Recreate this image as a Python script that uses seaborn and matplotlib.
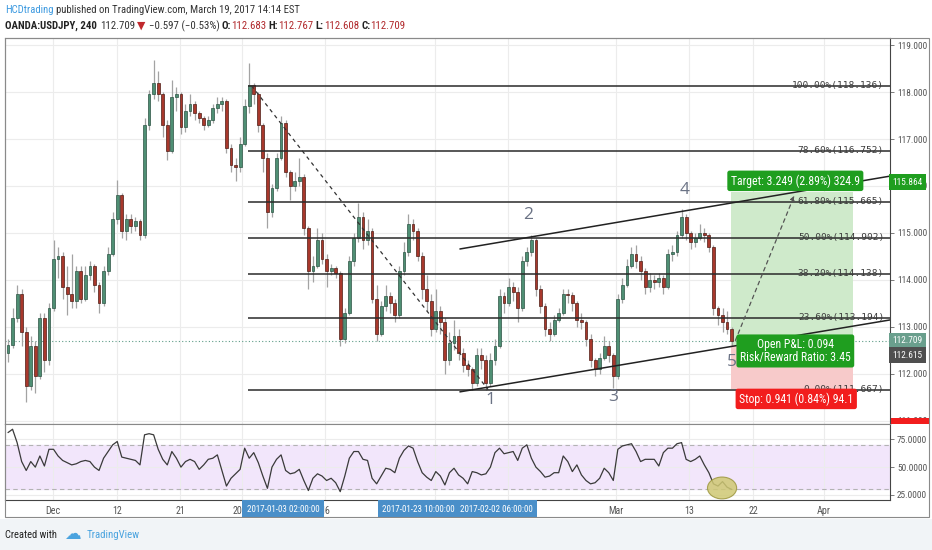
import numpy as np
import pandas as pd
import seaborn as sns
import matplotlib
matplotlib.use("Agg")
import matplotlib.pyplot as plt
import matplotlib.transforms as mtrans
from matplotlib import font_manager
from matplotlib.patches import Rectangle, Ellipse

first_open = 112.45
closes = [112.62, 113.2, 113.7, 112.9, 111.75, 112.6, 111.95, 113.2, 112.3, 113.4,
          114.45, 114.5, 113.85, 113.7, 113.55, 114.2, 113.6, 114.1, 114.3, 113.9,
          113.5, 114.2, 114.55, 115.3, 115.8, 115.05, 115.3, 115.15, 115.25, 114.95,
          117.3, 117.95, 118.2, 117.95, 117.3, 116.75, 117.9, 117.95, 117.25, 117.6,
          117.75, 117.55, 117.45, 117.3, 117.4, 117.65, 117.75, 117.8, 116.8, 116.45,
          116.4, 116.9, 117.7, 118.15, 117.95, 117.3, 116.6, 115.45, 115.95, 116.6,
          117.35, 116.3, 116.0, 116.1, 116.2, 115.1, 114.2, 114.3, 114.85, 114.45,
          114.2, 114.25, 114.15, 112.75, 113.3, 114.4, 114.9, 115.35, 114.85, 115.05,
          113.6, 112.85, 113.45, 113.65, 113.5, 113.25, 114.2, 114.6, 115.2, 115.05,
          114.5, 113.8, 113.55, 112.95, 113.35, 113.1, 112.3, 112.65, 112.8, 112.45,
          112.2, 112.1, 111.8, 112.4, 112.3, 111.8, 112.3, 112.6, 113.65, 113.5,
          113.85, 113.75, 113.4, 114.4, 114.6, 114.85, 113.8, 113.45, 112.95, 112.85,
          113.15, 113.3, 113.7, 113.68, 113.5, 113.15, 113.1, 112.75, 112.3, 112.1,
          112.35, 112.6, 112.4, 111.95, 113.6, 113.9, 114.3, 114.55, 114.4, 114.2,
          113.85, 114.0, 113.95, 114.05, 113.85, 114.55, 114.6, 114.95, 115.35, 115.0,
          114.8, 114.9, 115.0, 114.95, 114.7, 113.4, 113.25, 113.1, 112.95, 112.709]
highs = [112.75, 113.4, 113.9, 113.8, 113.0, 112.8, 112.7, 113.3, 113.3, 113.5,
         114.85, 114.7, 114.6, 114.3, 114.55, 114.3, 114.3, 114.3, 114.4, 114.35,
         113.95, 114.3, 114.7, 115.45, 116.13, 115.85, 115.4, 115.4, 115.35, 115.3,
         117.45, 118.05, 118.68, 118.45, 118.0, 117.4, 118.25, 118.1, 118.0, 117.75,
         117.95, 117.8, 117.6, 117.5, 117.5, 117.75, 117.9, 117.9, 117.85, 116.9,
         116.6, 117.05, 117.85, 118.62, 118.2, 118.0, 117.35, 116.7, 116.05, 116.7,
         117.5, 117.4, 116.35, 116.3, 116.6, 116.25, 115.15, 114.5, 115.1, 115.0,
         114.55, 114.35, 114.3, 114.2, 113.4, 114.5, 115.0, 115.64, 115.45, 115.3,
         115.1, 113.9, 113.55, 113.9, 113.75, 113.6, 114.3, 114.8, 115.4, 115.3,
         115.1, 114.6, 114.1, 113.7, 113.8, 113.45, 113.2, 112.9, 113.15, 112.95,
         112.55, 112.3, 112.15, 112.55, 112.55, 112.4, 112.45, 112.75, 113.8, 113.75,
         114.05, 113.95, 113.85, 114.5, 114.7, 114.95, 114.9, 113.9, 113.5, 113.1,
         113.25, 113.4, 113.8, 113.8, 113.75, 113.55, 113.3, 113.15, 112.85, 112.35,
         112.45, 112.8, 112.7, 112.45, 113.7, 114.05, 114.45, 114.7, 114.75, 114.5,
         114.25, 114.15, 114.1, 114.15, 114.1, 114.65, 114.75, 115.05, 115.5, 115.4,
         115.05, 115.0, 115.2, 115.1, 115.0, 114.75, 113.45, 113.4, 113.35, 113.0]
lows = [112.25, 112.55, 113.1, 112.6, 111.4, 111.65, 111.6, 111.9, 112.05, 112.2,
        113.35, 114.05, 113.6, 113.25, 113.4, 113.4, 113.5, 113.55, 114.0, 113.75,
        113.3, 113.45, 114.1, 114.5, 115.2, 114.9, 114.85, 115.0, 115.05, 114.85,
        114.9, 117.2, 117.85, 117.8, 117.05, 116.55, 116.7, 117.6, 117.1, 117.15,
        117.5, 117.4, 117.35, 117.2, 117.25, 117.35, 117.55, 117.6, 116.7, 116.3,
        116.1, 116.3, 116.85, 117.55, 117.75, 117.15, 116.3, 115.1, 115.35, 115.9,
        116.55, 116.2, 115.7, 115.9, 116.0, 114.95, 113.8, 113.95, 114.25, 114.35,
        113.85, 114.1, 114.05, 112.6, 112.65, 113.25, 114.3, 114.8, 114.65, 114.75,
        113.5, 112.7, 112.8, 113.35, 113.3, 113.1, 113.2, 114.1, 114.5, 114.85,
        114.4, 113.6, 113.35, 112.8, 112.9, 112.85, 112.0, 112.2, 112.5, 112.3,
        112.05, 111.95, 111.67, 111.75, 112.1, 111.67, 111.75, 112.2, 112.55, 113.3,
        113.45, 113.55, 113.1, 113.35, 114.3, 114.5, 113.65, 113.3, 112.8, 112.7,
        112.8, 113.1, 113.25, 113.5, 113.35, 113.0, 112.95, 112.6, 112.15, 111.95,
        112.0, 112.3, 112.25, 111.7, 111.9, 113.5, 113.85, 114.25, 114.25, 114.0,
        113.7, 113.75, 113.8, 113.85, 113.7, 113.8, 114.4, 114.5, 114.9, 114.85,
        114.65, 114.7, 114.85, 114.8, 114.6, 113.25, 113.05, 112.9, 112.85, 112.6]
rsi = [81, 84, 72, 55, 47, 55, 50, 60, 51, 66,
       66, 60, 56, 54, 52, 53, 55, 56, 55, 50,
       47, 58, 64, 70, 73, 59, 58, 57, 56, 52,
       79, 80, 79, 66, 57, 52, 64, 58, 50, 55,
       57, 55, 48, 52, 57, 58, 61, 47, 33, 40,
       44, 48, 67, 58, 63, 54, 42, 31, 50, 57,
       61, 47, 44, 45, 48, 38, 29, 40, 44, 42,
       38, 40, 36, 28, 42, 58, 64, 64, 57, 56,
       40, 35, 42, 49, 48, 45, 58, 65, 69, 67,
       55, 45, 41, 38, 46, 42, 34, 45, 49, 43,
       40, 35, 46, 45, 43, 44, 50, 63, 67, 62,
       63, 64, 56, 67, 70, 58, 50, 46, 41, 42,
       45, 45, 60, 55, 46, 52, 43, 38, 35, 36,
       40, 49, 45, 38, 66, 69, 70, 71, 64, 55,
       57, 57, 57, 51, 63, 67, 67, 71, 72, 57,
       55, 57, 60, 52, 45, 35, 33, 37, 32, 30]

fib_levels = [118.136, 116.752, 115.665, 114.902, 114.138, 113.194, 111.667]
fib_names = ["100.00%", "78.60%", "61.80%", "50.00%", "38.20%", "23.60%", "0.00%"]

date_ticks = [9.9, 23.95, 37.8, 51.4, 69.7, 93.8, 109.9, 133.6, 149.7, 163.7, 179.3]
date_labels = ["Dec", "12", "21", "2017", "16", "", "", "Mar", "13", "22", "Apr"]
marker_dates = ["2017-01-03 02:00:00", "2017-01-23 10:00:00", "2017-02-02 06:00:00"]
marker_x = [60.4, 90.2, 107.3]

wave_labels = ["1", "2", "3", "4", "5"]
wave_x = [105.9, 114.3, 133.0, 148.6, 159.1]
wave_y = [111.45, 115.38, 111.51, 115.91, 112.26]

entry, target, stop = 112.615, 115.864, 111.674
last_price = 112.709

sns.set_theme(style="white")
names = {f.name for f in font_manager.fontManager.ttflist}
NARROW = "Liberation Sans"
for cand in ["Liberation Sans Narrow", "DejaVu Sans Condensed", "Roboto Condensed",
             "Open Sans Condensed"]:
    if cand in names:
        NARROW = cand
        break
plt.rcParams["font.family"] = [NARROW, "DejaVu Sans"]

W, H = 932, 550
fig = plt.figure(figsize=(W / 100, H / 100), dpi=100, facecolor="white")
renderer = fig.canvas.get_renderer()


def box(x0, y0, x1, y1):
    return [x0 / W, 1 - y1 / H, (x1 - x0) / W, (y1 - y0) / H]


def text_w(s, size, **kw):
    t = fig.text(0, 0, s, fontsize=size, **kw)
    w = t.get_window_extent(renderer).width
    t.remove()
    return w


def fit(s, px, **kw):
    return 10 * px / text_w(s, 10, **kw)


def rich(x, y, parts, width):
    ws = [text_w(p[0], 10, fontweight=p[2]) for p in parts]
    total = sum(ws) + sum(p[3] for p in parts)
    k = width / total
    for (s, col, wt, gap), w in zip(parts, ws):
        fig.text(x / W, 1 - y / H, s, color=col, fontsize=10 * k, fontweight=wt,
                 va="center", ha="left")
        x += (w + gap) * k


s_tick = fit("119.000", 30)
s_date = fit("Mar", 15.5)

ax = fig.add_axes(box(5, 38, 890, 424))
axr = fig.add_axes(box(5, 424, 890, 500), sharex=ax)

# candles
opens = [first_open] + closes[:-1]
df = pd.DataFrame({"o": opens, "h": highs, "l": lows, "c": closes})
df["i"] = np.arange(len(df))
up = (df["c"] >= df["o"]).to_numpy()
ax.vlines(df["i"], df["l"], df["h"], color="#a3a3a3", lw=0.9, zorder=3)
bottoms = df[["o", "c"]].min(axis=1)
heights = (df["c"] - df["o"]).abs().clip(lower=0.025)
ax.bar(df["i"], heights, bottom=bottoms, width=0.62,
       color=np.where(up, "#4f8f74", "#a8382c"),
       edgecolor=np.where(up, "#2c5444", "#4e1d16"), linewidth=0.5, zorder=4)

# long position tool
ax.add_patch(Rectangle((158.9, entry), 26.8, target - entry, fc="#cfeacb", ec="none", zorder=1.5))
ax.add_patch(Rectangle((158.9, stop), 26.8, entry - stop, fc="#f7caca", ec="none", zorder=1.5))
ax.annotate("", xy=(173, 115.85), xytext=(159.6, 112.66),
            arrowprops=dict(arrowstyle="-|>", ls=(0, (3, 3)), color="#555555", lw=0.9,
                            mutation_scale=6), zorder=6)

# fib retracement
ax.hlines(fib_levels, 52.7, 193.8, color="#2a2a2a", lw=1.1, zorder=5)
for lvl, nm in zip(fib_levels, fib_names):
    ax.text(192.5, lvl, f"{nm}({lvl:.3f})", ha="right", va="center", fontsize=6.8,
            family="DejaVu Sans Mono", color="#3c3c3c", zorder=6)
ax.plot([53.5, 105.5], [118.136, 111.667], ls=(0, (3, 3)), color="#333333", lw=0.9, zorder=5)

# channel
ax.plot([99.3, 193.8], [111.62, 113.15], color="#222222", lw=1.1, zorder=5)
ax.plot([99.3, 193.8], [114.66, 116.21], color="#222222", lw=1.1, zorder=5)

ax.axhline(last_price, color="#5f9c88", ls=(0, (1, 2)), lw=0.8, zorder=2)

for lab, x, y in zip(wave_labels, wave_x, wave_y):
    ax.text(x, y, lab, color="#6b7385", fontsize=12.5, family="Open Sans", ha="center",
            va="center", zorder=7)

s_t = fit("Target: 3.249 (2.89%) 324.9", 128)
ax.text(173, 116.11, "Target: 3.249 (2.89%) 324.9", ha="center", va="center", color="white",
        fontsize=s_t, zorder=8,
        bbox=dict(boxstyle="round,pad=0.3,rounding_size=0.2", fc="#1f9e1f", ec="none"))
ax.text(173, 112.49, "Open P&L: 0.094\nRisk/Reward Ratio: 3.45", ha="center", va="center",
        color="white", fontsize=s_t, linespacing=1.0, multialignment="center", zorder=8,
        bbox=dict(boxstyle="round,pad=0.3,rounding_size=0.2", fc="#1f9e1f", ec="none"))
ax.text(173.2, 111.47, "Stop: 0.941 (0.84%) 94.1", ha="center", va="center", color="white",
        fontsize=s_t, zorder=8,
        bbox=dict(boxstyle="round,pad=0.3,rounding_size=0.2", fc="#f21d1d", ec="none"))

ax.set_xlim(-0.66, 193.8)
ax.set_ylim(110.936, 119.149)
ax.set_xticks(date_ticks)
ax.set_yticks(range(111, 120))
ax.set_yticklabels([f"{v:.3f}" for v in range(111, 120)])
ax.yaxis.tick_right()
ax.tick_params(axis="x", labelbottom=False, length=0)
ax.tick_params(axis="y", length=3, width=0.6, color="#666666", pad=2, labelsize=s_tick,
               labelcolor="#555555")
ax.grid(True, color="#ececec", lw=0.8, zorder=0)
ax.set_axisbelow(True)

# price labels on right scale
ytr = mtrans.blended_transform_factory(ax.transAxes, ax.transData)
for val, shown, col in [(116.08, "115.864", "#1f9e1f"), (last_price, "112.709", "#6a9f8d"),
                        (112.40, "112.615", "#4f4f4f")]:
    ax.text(1.003, val, shown, transform=ytr, ha="left", va="center", color="white",
            fontsize=s_tick, clip_on=False, zorder=10,
            bbox=dict(boxstyle="square,pad=0.35", fc=col, ec="none"))
fig.patches.append(Rectangle((891 / W, 1 - 424 / H), 39 / W, 6 / H, transform=fig.transFigure,
                             fc="#f21d1d", ec="none", zorder=10))

# RSI pane
axr.axhspan(30, 70, color="#f2e6fb", zorder=0)
for lv in [70, 30]:
    axr.axhline(lv, ls=(0, (4, 3)), color="#b3b3b3", lw=0.8, zorder=1)
sns.lineplot(x=np.arange(len(rsi)), y=rsi, ax=axr, color="#3a3a3a", lw=0.9, zorder=3)
axr.add_patch(Ellipse((156.9, 31.3), 6.4, 19.6, fc="#cfc873", ec="#9c963e", lw=0.8,
                      alpha=0.85, zorder=4))
axr.set_ylim(20.5, 88.7)
axr.set_yticks([25, 50, 75])
axr.set_yticklabels(["25.0000", "50.0000", "75.0000"])
axr.yaxis.tick_right()
axr.set_xticks(date_ticks)
axr.set_xticklabels(date_labels)
axr.tick_params(axis="x", length=0, pad=4, labelsize=s_date, labelcolor="#555555")
axr.tick_params(axis="y", length=3, width=0.6, color="#666666", pad=2, labelsize=s_tick,
                labelcolor="#555555")
axr.grid(True, color="#ececec", lw=0.8, zorder=0)
axr.set_axisbelow(True)
axr.set_xlabel("")
axr.set_ylabel("")

for a in (ax, axr):
    for side, sp in a.spines.items():
        sp.set_visible(True)
        sp.set_linewidth(0.8)
        sp.set_color("#888888" if side in ("top", "left") else "#444444")

# time markers on the date scale
xtr = mtrans.blended_transform_factory(axr.transData, fig.transFigure)
s_m = fit(marker_dates[0], 72)
for lab, x in zip(marker_dates, marker_x):
    axr.text(x, 1 - 509 / H, lab, transform=xtr, ha="center", va="center", color="white",
             fontsize=s_m, clip_on=False, zorder=10,
             bbox=dict(boxstyle="square,pad=0.5", fc="#4a8fc9", ec="none"))

# outer frame and footer band
fig.patches.append(Rectangle((5 / W, 1 - 517 / H), 924 / W, 479 / H, transform=fig.transFigure,
                             fill=False, ec="#8a8a8a", lw=0.8, zorder=11))
fig.patches.append(Rectangle((0, 0), 1, 31 / H, transform=fig.transFigure,
                             fc="#f1f4f7", ec="none", zorder=0))

# header
rich(5, 10, [("HCDtrading", "#3d9ae0", "normal", 3.7),
             ("published on TradingView.com, March 19, 2017 14:14 EST", "#333333", "normal", 0)],
     295)
red = "#b0282b"
rich(5, 26, [("OANDA:USDJPY, 240", "#222222", "bold", 3.7),
             ("112.709", "#333333", "normal", 3.7),
             ("\u25bc", "#c0282d", "normal", 3.7),
             ("\u22120.597 (\u22120.53%)", "#333333", "normal", 3.7),
             ("O:", "#222222", "bold", 0), ("112.683", red, "normal", 3.7),
             ("H:", "#222222", "bold", 0), ("112.767", red, "normal", 3.7),
             ("L:", "#222222", "bold", 0), ("112.608", red, "normal", 3.7),
             ("C:", "#222222", "bold", 0), ("112.709", red, "normal", 0)],
     400)

# footer
fig.text(5 / W, 1 - 535 / H, "Created with", fontsize=fit("Created with", 52), color="#222222",
         va="center")
fig.text(64 / W, 1 - 534 / H, "\u2601", fontsize=12, color="#4aa3df", family="DejaVu Sans",
         va="center")
fig.text(87 / W, 1 - 535 / H, "TradingView", fontsize=fit("TradingView", 53), color="#4aa3df",
         va="center")

fig.savefig("out.png", dpi=100, facecolor="white")
